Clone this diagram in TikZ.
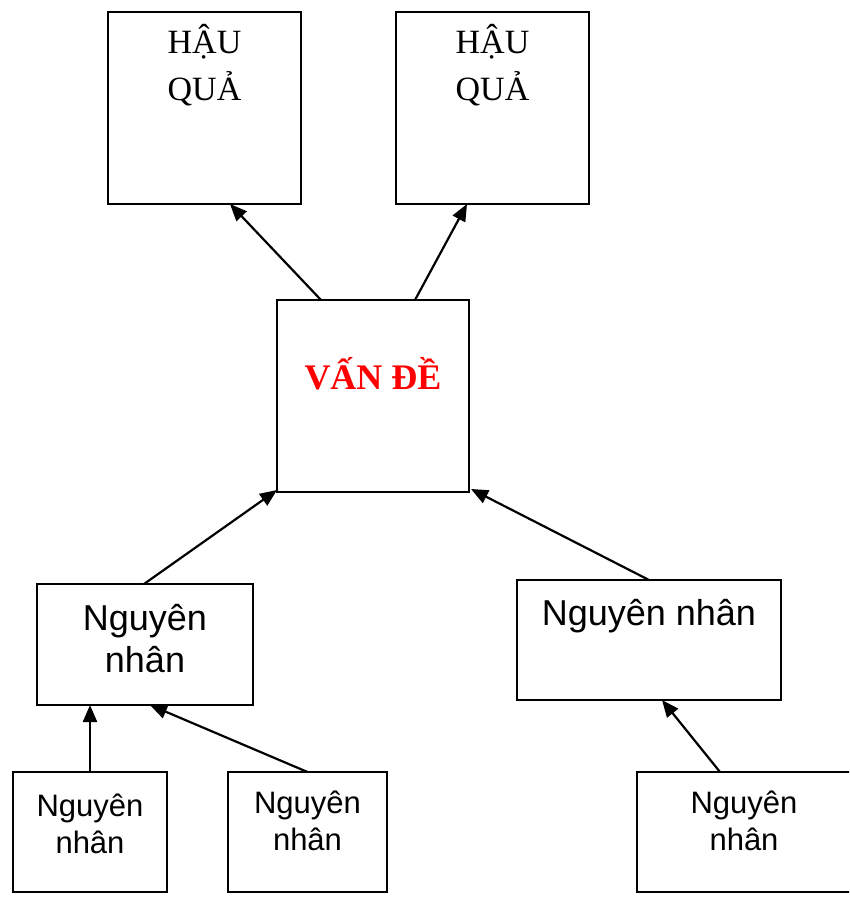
\documentclass[tikz,border=0pt]{standalone}
\usepackage{fontspec}
\setmainfont{Liberation Serif}
\newfontfamily\arialfont{Liberation Sans}
\usetikzlibrary{arrows.meta}
\tikzset{
  box/.style={draw=black, line width=2.2pt, inner sep=0pt, outer sep=0pt, fill=white},
  conn/.style={line width=2.2pt, -{Triangle[length=17pt,width=14pt]}},
  hqtext/.style={anchor=base, align=center, inner sep=0pt, font=\fontsize{34}{47}\selectfont},
  vdtext/.style={anchor=base, inner sep=0pt, text=red, font=\fontsize{36}{42}\selectfont\bfseries},
  nnbig/.style={anchor=base, align=center, inner sep=0pt, font=\arialfont\fontsize{36}{42}\selectfont},
  nnsmall/.style={anchor=base, align=center, inner sep=0pt, font=\arialfont\fontsize{31}{37}\selectfont},
}
\begin{document}
\begin{tikzpicture}[x=1pt,y=-1pt]
\useasboundingbox (0,0) rectangle (849,899);
\clip (0,0) rectangle (849,899);
% boxes
\node[box, minimum width=193pt, minimum height=192pt] (hq1) at (204.5,108) {};
\node[box, minimum width=193pt, minimum height=192pt] (hq2) at (492.5,108) {};
\node[box, minimum width=192pt, minimum height=192pt] (vd) at (373,396) {};
\node[box, minimum width=216pt, minimum height=121pt] (nn1) at (145,644.5) {};
\node[box, minimum width=264pt, minimum height=120pt] (nn2) at (649,640) {};
\node[box, minimum width=154pt, minimum height=120pt] (b1) at (90,832) {};
\node[box, minimum width=159pt, minimum height=120pt] (b2) at (307.5,832) {};
\node[box, minimum width=214pt, minimum height=120pt] (b3) at (744,832) {};
% texts (base anchor = baseline of the last line)
\node[hqtext] (hq1t) at ([yshift=-88pt]hq1.north) {HẬU\\QUẢ};
\node[hqtext] (hq2t) at ([yshift=-88pt]hq2.north) {HẬU\\QUẢ};
\node[vdtext] (vdt) at ([yshift=-89pt]vd.north) {VẤN ĐỀ};
\node[nnbig] (nn1t) at ([yshift=-88pt]nn1.north) {Nguyên\\nhân};
\node[nnbig] (nn2t) at ([yshift=-45pt]nn2.north) {Nguyên nhân};
\node[nnsmall] (b1t) at ([yshift=-81pt]b1.north) {Nguyên\\nhân};
\node[nnsmall] (b2t) at ([yshift=-78pt]b2.north) {Nguyên\\nhân};
\node[nnsmall] (b3t) at ([yshift=-78pt]b3.north) {Nguyên\\nhân};
% connectors
\draw[conn] ([xshift=44pt]vd.north west) -- ([xshift=122pt]hq1.south west);
\draw[conn] ([xshift=138pt]vd.north west) -- ([xshift=71pt]hq2.south west);
\draw[conn] ([xshift=107pt]nn1.north west) -- ([yshift=2pt]vd.south west);
\draw[conn] ([xshift=132pt]nn2.north west) -- ([xshift=2pt,yshift=3pt]vd.south east);
\draw[conn] (b1.north) -- ([xshift=53pt]nn1.south west);
\draw[conn] (b2.north) -- ([xshift=113pt]nn1.south west);
\draw[conn] ([xshift=83pt]b3.north west) -- ([xshift=145pt]nn2.south west);
\end{tikzpicture}
\end{document}
